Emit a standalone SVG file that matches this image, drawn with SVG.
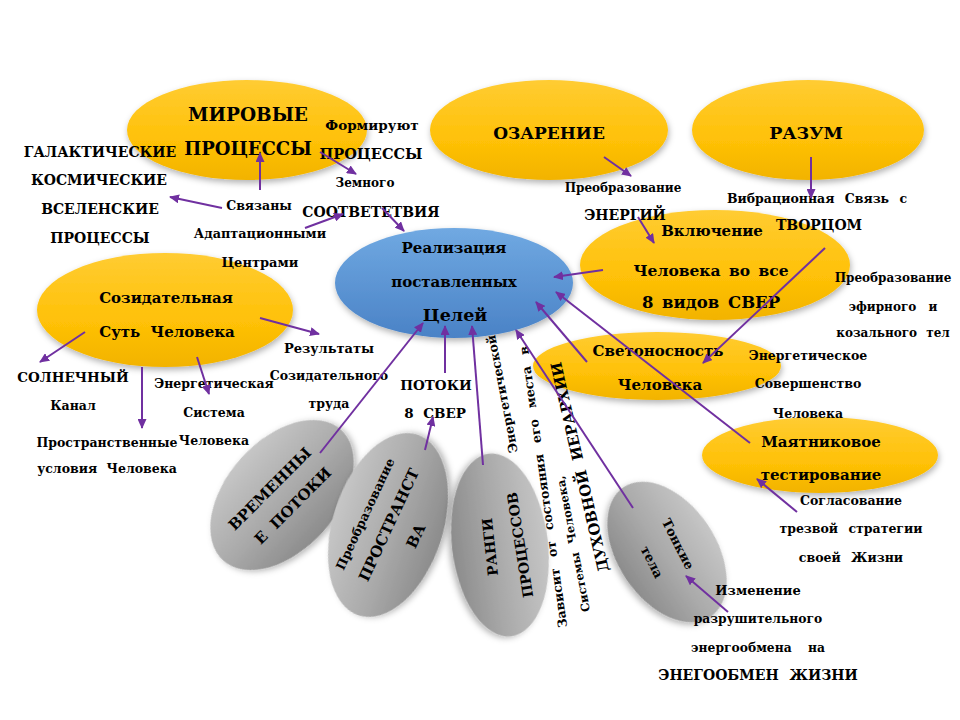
<svg xmlns="http://www.w3.org/2000/svg" width="960" height="720" viewBox="0 0 960 720">
<defs>
  <linearGradient id="gy" x1="0" y1="0" x2="0" y2="1">
    <stop offset="0" stop-color="#FFCC33"/>
    <stop offset="0.6" stop-color="#FFC107"/>
    <stop offset="1" stop-color="#F2B300"/>
  </linearGradient>
  <linearGradient id="gb" x1="0" y1="0" x2="0" y2="1">
    <stop offset="0" stop-color="#70A9E2"/>
    <stop offset="1" stop-color="#4A82C6"/>
  </linearGradient>
  <linearGradient id="gg" x1="0" y1="0" x2="0" y2="1">
    <stop offset="0" stop-color="#C6C6C6"/>
    <stop offset="0.55" stop-color="#A9A9A9"/>
    <stop offset="1" stop-color="#8C8C8C"/>
  </linearGradient>
  <filter id="sh" x="-20%" y="-20%" width="140%" height="150%">
    <feDropShadow dx="1" dy="3" stdDeviation="3" flood-color="#000" flood-opacity="0.3"/>
  </filter>
  <marker id="ah" markerUnits="userSpaceOnUse" markerWidth="10" markerHeight="9" viewBox="0 0 10 9" refX="9" refY="4.5" orient="auto">
    <path d="M0,0 L10,4.5 L0,9 z" fill="#7030A0"/>
  </marker>
</defs>
<style>
  .y{fill:url(#gy);filter:url(#sh)}
  .b{fill:url(#gb);filter:url(#sh)}
  .g{fill:url(#gg);filter:url(#sh)}
  text{font-family:"DejaVu Serif","Liberation Serif",serif;font-weight:bold;fill:#000;text-anchor:middle;dominant-baseline:central}
  .h{font-size:18px}
  .m{font-size:15px}
  .s{font-size:12.5px}
  .a{font-size:14px}
  .c{stroke:#7030A0;stroke-width:2;fill:none;marker-end:url(#ah)}
</style>

<g id="mirovye">
  <ellipse class="y" cx="247" cy="130" rx="120" ry="50"/>
  <text class="h" x="248" y="114" style="font-size:18.5px">МИРОВЫЕ</text>
  <text class="h" x="248" y="148">ПРОЦЕССЫ</text>
</g>
<g id="ozarenie">
  <ellipse class="y" cx="549" cy="130" rx="119" ry="50"/>
  <text class="h" x="549" y="133" style="font-size:17px">ОЗАРЕНИЕ</text>
</g>
<g id="razum">
  <ellipse class="y" cx="808" cy="130" rx="116" ry="50"/>
  <text class="h" x="806" y="133" style="font-size:17.5px">РАЗУМ</text>
</g>
<g id="vklyuchenie">
  <ellipse class="y" cx="715" cy="265" rx="135" ry="55"/>
  <text class="m" x="712" y="231">Включение</text>
  <text class="m" x="711" y="270" word-spacing="3" style="font-size:15.5px">Человека во все</text>
  <text class="m" x="711" y="302" word-spacing="3" style="font-size:16.5px">8 видов СВЕР</text>
</g>
<g id="sozidatelnaya">
  <ellipse class="y" cx="165" cy="310" rx="128" ry="57"/>
  <text class="m" x="166" y="298">Созидательная</text>
  <text class="m" x="167" y="332" word-spacing="5">Суть Человека</text>
</g>
<g id="svetonosnost">
  <ellipse class="y" cx="657" cy="366" rx="124" ry="34"/>
  <text class="m" x="658" y="351">Светоносность</text>
  <text class="m" x="660" y="385">Человека</text>
</g>
<g id="mayatnik">
  <ellipse class="y" cx="820" cy="455" rx="118" ry="38"/>
  <text class="m" x="821" y="442">Маятниковое</text>
  <text class="m" x="821" y="475">тестирование</text>
</g>
<g id="realizaciya">
  <ellipse class="b" cx="454" cy="283" rx="119" ry="55"/>
  <text class="m" x="454" y="248">Реализация</text>
  <text class="m" x="454" y="282">поставленных</text>
  <text class="m" x="455" y="315" style="font-size:17.5px">Целей</text>
</g>

<g id="vremennye">
  <ellipse class="g" cx="282" cy="495" rx="88" ry="55" transform="rotate(-48 282 495)"/>
  <text transform="translate(270 489) rotate(-45)" x="0" y="0" style="font-size:15px">ВРЕМЕННЫ</text>
  <text transform="translate(293 506) rotate(-45)" x="0" y="0" word-spacing="5" style="font-size:15px">Е ПОТОКИ</text>
</g>
<g id="prostranstvo">
  <ellipse class="g" cx="388" cy="525" rx="95" ry="55" transform="rotate(-72 388 525)"/>
  <text transform="translate(365 514) rotate(-65)" x="0" y="0" style="font-size:12.5px">Преобразование</text>
  <text transform="translate(389 525) rotate(-65)" x="0" y="0" style="font-size:15px">ПРОСТРАНСТ</text>
  <text transform="translate(416 536) rotate(-65)" x="0" y="0" style="font-size:15px">ВА</text>
</g>
<g id="rangi">
  <ellipse class="g" cx="500" cy="545" rx="92" ry="48" transform="rotate(83 500 545)"/>
  <text transform="translate(490 547) rotate(-96)" x="0" y="0" style="font-size:14px">РАНГИ</text>
  <text transform="translate(520 545) rotate(-99)" x="0" y="0" style="font-size:14px">ПРОЦЕССОВ</text>
</g>
<g id="tonkie">
  <ellipse class="g" cx="667" cy="552" rx="78" ry="49" transform="rotate(56 667 552)"/>
  <text transform="translate(678 544) rotate(63)" x="0" y="0" style="font-size:13px">Тонкие</text>
  <text transform="translate(652 562) rotate(63)" x="0" y="0" style="font-size:13px">тела</text>
</g>

<g id="rangi-note">
  <text transform="translate(502 394) rotate(-101)" x="0" y="0" style="font-size:12.5px">Энергетической</text>
  <text transform="translate(543 487) rotate(-98)" x="0" y="0" word-spacing="7" style="font-size:12.5px">Зависит от состояния его места в</text>
  <text transform="translate(573 544) rotate(-101)" x="0" y="0" word-spacing="5" style="font-size:11.5px">Системы Человека,</text>
  <text transform="translate(580 467) rotate(-103)" x="0" y="0" word-spacing="5" style="font-size:15px">ДУХОВНОЙ ИЕРАРХИИ</text>
</g>

<g id="formiruyut">
  <text x="372" y="125" style="font-size:13.5px">Формируют</text>
  <text x="371" y="153" style="font-size:14.5px">ПРОЦЕССЫ</text>
  <text x="365" y="183" style="font-size:12px">Земного</text>
  <text x="371" y="212" style="font-size:14px">СООТВЕТЕТВИЯ</text>
</g>
<g id="galakticheskie">
  <text x="100" y="152" style="font-size:14px">ГАЛАКТИЧЕСКИЕ</text>
  <text x="99" y="180" style="font-size:14px">КОСМИЧЕСКИЕ</text>
  <text x="100" y="209" style="font-size:14px">ВСЕЛЕНСКИЕ</text>
  <text x="100" y="238" style="font-size:14px">ПРОЦЕССЫ</text>
</g>
<g id="svyazany">
  <text x="259" y="205" style="font-size:12.5px">Связаны</text>
  <text x="260" y="233" style="font-size:12.8px">Адаптационными</text>
  <text x="260" y="262" style="font-size:13px">Центрами</text>
</g>
<g id="preobr-energii">
  <text x="623" y="188" style="font-size:12px">Преобразование</text>
  <text x="625" y="215" style="font-size:14px">ЭНЕРГИЙ</text>
</g>
<g id="vibracionnaya">
  <text x="817" y="198" word-spacing="6" style="font-size:12.5px">Вибрационная Связь с</text>
  <text x="819" y="225" style="font-size:14px">ТВОРЦОМ</text>
</g>
<g id="preobr-efirnogo">
  <text x="893" y="278" style="font-size:12px">Преобразование</text>
  <text x="893" y="307" word-spacing="8" style="font-size:12px">эфирного и</text>
  <text x="893" y="333" word-spacing="5" style="font-size:12px">козального тел</text>
</g>
<g id="solnechnyj">
  <text x="73" y="377" style="font-size:13.5px">СОЛНЕЧНЫЙ</text>
  <text class="s" x="73" y="405">Канал</text>
</g>
<g id="prostranstvennye">
  <text class="s" x="107" y="442">Пространственные</text>
  <text class="s" x="107" y="468" word-spacing="5">условия Человека</text>
</g>
<g id="energ-sistema">
  <text class="s" x="214" y="383">Энергетическая</text>
  <text class="s" x="214" y="412">Система</text>
  <text class="s" x="214" y="440">Человека</text>
</g>
<g id="rezultaty">
  <text class="s" x="329" y="348" style="font-size:13px">Результаты</text>
  <text class="s" x="329" y="375">Созидательного</text>
  <text class="s" x="329" y="403">труда</text>
</g>
<g id="potoki">
  <text x="436" y="385" style="font-size:13.5px">ПОТОКИ</text>
  <text x="435" y="413" word-spacing="5" style="font-size:13.5px">8 СВЕР</text>
</g>
<g id="energ-sovershenstvo">
  <text class="s" x="808" y="355">Энергетическое</text>
  <text class="s" x="808" y="383">Совершенство</text>
  <text class="s" x="808" y="413">Человека</text>
</g>
<g id="soglasovanie">
  <text class="s" x="851" y="500">Согласование</text>
  <text class="s" x="851" y="528" word-spacing="6">трезвой стратегии</text>
  <text class="s" x="851" y="557" word-spacing="6">своей Жизни</text>
</g>
<g id="izmenenie">
  <text x="758" y="590" style="font-size:13px">Изменение</text>
  <text x="758" y="618" style="font-size:12.3px">разрушительного</text>
  <text x="758" y="647" word-spacing="12" style="font-size:12.3px">энергообмена на</text>
  <text x="758" y="675" word-spacing="6" style="font-size:14px">ЭНЕГООБМЕН ЖИЗНИ</text>
</g>

<g id="connectors">
  <line class="c" x1="260" y1="190" x2="260" y2="153"/>
  <line class="c" x1="222" y1="208" x2="170" y2="197"/>
  <line class="c" x1="320" y1="152" x2="356" y2="174"/>
  <line class="c" x1="305" y1="228" x2="343" y2="214"/>
  <line class="c" x1="382" y1="208" x2="404" y2="231"/>
  <line class="c" x1="604" y1="157" x2="631" y2="176"/>
  <line class="c" x1="811" y1="157" x2="811" y2="198"/>
  <line class="c" x1="638" y1="217" x2="654" y2="243"/>
  <line class="c" x1="603" y1="270" x2="554" y2="277"/>
  <line class="c" x1="825" y1="248" x2="703" y2="363"/>
  <line class="c" x1="587" y1="362" x2="536" y2="302"/>
  <line class="c" x1="750" y1="443" x2="556" y2="292"/>
  <line class="c" x1="633" y1="508" x2="516" y2="330"/>
  <line class="c" x1="483" y1="465" x2="472" y2="326"/>
  <line class="c" x1="445" y1="373" x2="445" y2="326"/>
  <line class="c" x1="320" y1="453" x2="423" y2="323"/>
  <line class="c" x1="425" y1="450" x2="433" y2="417"/>
  <line class="c" x1="797" y1="512" x2="757" y2="479"/>
  <line class="c" x1="728" y1="612" x2="686" y2="576"/>
  <line class="c" x1="85" y1="332" x2="40" y2="362"/>
  <line class="c" x1="142" y1="367" x2="142" y2="428"/>
  <line class="c" x1="197" y1="357" x2="209" y2="394"/>
  <line class="c" x1="260" y1="318" x2="319" y2="334"/>
</g>
</svg>
